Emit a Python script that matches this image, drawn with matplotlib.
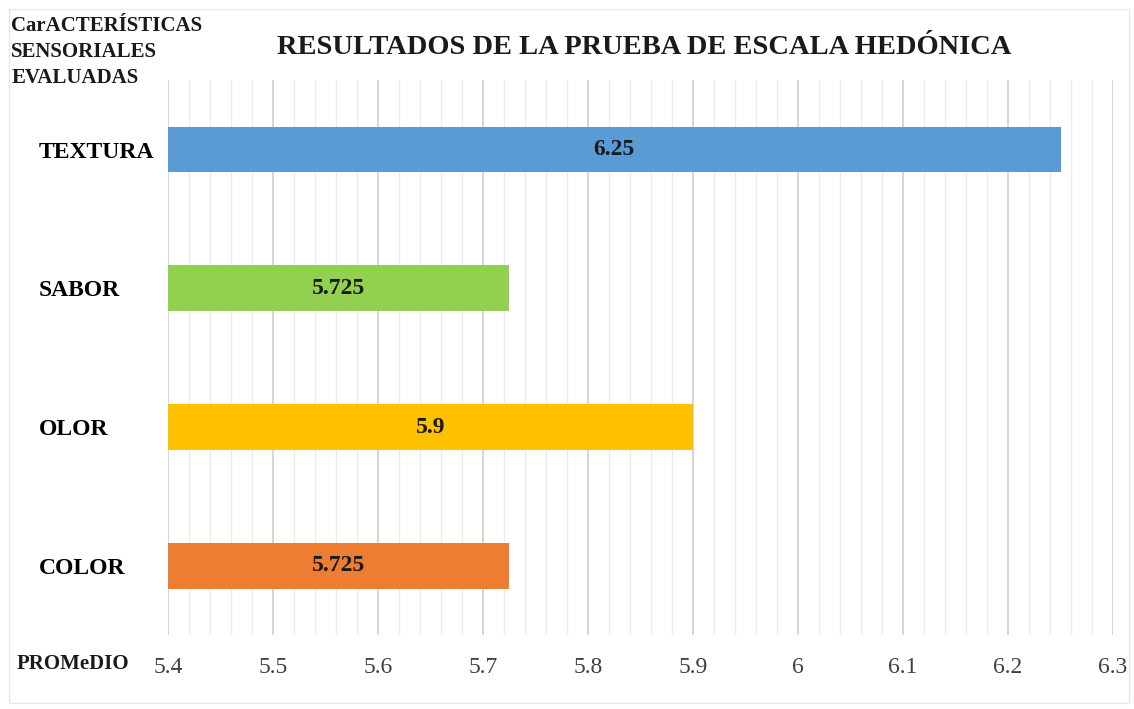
import matplotlib.pyplot as plt
from matplotlib.ticker import MultipleLocator
from matplotlib.patches import Rectangle

caracteristicas = ["COLOR", "OLOR", "SABOR", "TEXTURA"]
promedio = [5.725, 5.9, 5.725, 6.25]
etiquetas = ["5.725", "5.9", "5.725", "6.25"]
colores = ["#ED7D31", "#FFC000", "#92D050", "#5B9BD5"]

plt.rcParams["font.family"] = ["Liberation Serif", "DejaVu Serif"]

fig = plt.figure(figsize=(11.34, 7.09), dpi=100)

# marco claro alrededor del grafico
fig.patches.append(Rectangle((0.008, 0.008), 0.988, 0.98, transform=fig.transFigure,
                             fill=False, edgecolor="#E8E8E8", linewidth=1.0))

ax = fig.add_axes([0.148, 0.104, 0.8335, 0.783])

y = range(len(caracteristicas))
bars = ax.barh(y, promedio, left=0, height=0.33, color=colores, zorder=3)
ax.set_xlim(5.4, 6.3)
ax.set_ylim(-0.5, 3.5)

for b, txt in zip(bars, etiquetas):
    xc = (5.4 + b.get_width()) / 2
    ax.text(xc, b.get_y() + b.get_height() / 2, txt, ha="center", va="center",
            fontsize=17, fontweight="bold", color="#1a1a1a", zorder=4)

ax.xaxis.set_major_locator(MultipleLocator(0.1))
ax.xaxis.set_minor_locator(MultipleLocator(0.02))
ax.grid(which="major", axis="x", color="#CFCFCF", linewidth=1.2, zorder=0)
ax.grid(which="minor", axis="x", color="#EBEBEB", linewidth=1.0, zorder=0)
ax.set_xticks([5.4 + 0.1 * i for i in range(10)])
ax.set_xticklabels(["5.4", "5.5", "5.6", "5.7", "5.8", "5.9", "6", "6.1", "6.2", "6.3"])
ax.set_yticks(list(y))
ax.set_yticklabels(caracteristicas, fontsize=17, fontweight="bold", ha="left")
ax.tick_params(axis="x", which="both", length=0, labelsize=17, colors="#404040", pad=16)
ax.tick_params(axis="y", length=0, pad=93)
for s in ax.spines.values():
    s.set_visible(False)

fig.text(0.568, 0.933, "RESULTADOS DE LA PRUEBA DE ESCALA HEDÓNICA", ha="center",
         va="center", fontsize=20.5, fontweight="bold", color="#1a1a1a")
fig.text(0.010, 0.978, "CarACTERÍSTICAS\nSENSORIALES\nEVALUADAS", ha="left", va="top",
         fontsize=15, fontweight="bold", color="#1a1a1a", linespacing=1.4)
fig.text(0.015, 0.064, "PROMeDIO", ha="left", va="center",
         fontsize=15, fontweight="bold", color="#1a1a1a")

fig.savefig("out.png", dpi=100)
